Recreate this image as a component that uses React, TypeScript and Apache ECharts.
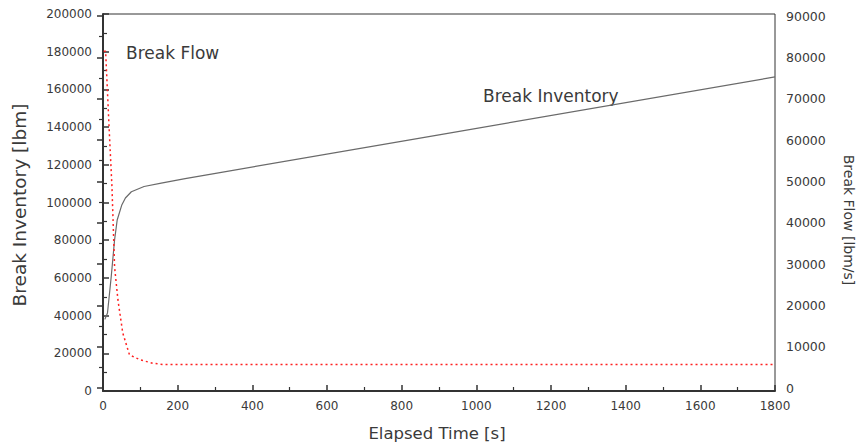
import React, { useEffect, useRef } from "react";
import * as echarts from "echarts";

const inventoryTime = [5, 12, 22, 31, 38, 50, 60, 76, 110, 156, 220, 290, 900, 1800];
const inventoryValue = [38000, 41400, 60600, 80100, 90700, 98500, 102400, 105700, 108500, 110300, 112700, 115100, 135900, 166600];
const flowTime = [2, 7, 17, 24, 31, 40, 53, 71, 100, 133, 160, 1800];
const flowValue = [81500, 81500, 61700, 48600, 29300, 21300, 13300, 8000, 6800, 6000, 5700, 5700];

const FONT = "'DejaVu Sans', Verdana, sans-serif";
const AX = "#333";
const TXT = "#3a3a3a";

export default function App() {
  const ref = useRef<HTMLDivElement>(null);
  useEffect(() => {
    if (!ref.current) return;
    const chart = echarts.init(ref.current, undefined, { renderer: "svg" });
    const inv = inventoryTime.map((t, i) => [t, inventoryValue[i]]);
    const flow = flowTime.map((t, i) => [t, flowValue[i]]);
    const plain = (v: number) => String(v);
    const tick = { show: true, inside: true, length: 6, lineStyle: { color: AX, width: 1.5 } };
    const minor = { show: true, splitNumber: 2, length: 4, lineStyle: { color: AX, width: 1.2 } };
    chart.setOption({
      animation: false,
      backgroundColor: "#fff",
      grid: [
        { left: 103, right: 85, top: 14, height: 377, show: true, borderColor: AX, borderWidth: 1 },
        { left: 103, right: 85, top: 16, height: 372 },
      ],
      xAxis: [
        {
          type: "value", gridIndex: 0, min: 0, max: 1800, interval: 200,
          axisLine: { show: true, onZero: false, lineStyle: { color: AX, width: 2 } },
          axisTick: tick,
          minorTick: minor,
          splitLine: { show: false },
          axisLabel: { color: TXT, fontSize: 12, fontFamily: FONT, margin: 9, formatter: plain },
        },
        { type: "value", gridIndex: 1, min: 0, max: 1800, show: false },
      ],
      yAxis: [
        {
          type: "value", gridIndex: 0, min: 0, max: 200000, interval: 20000,
          axisLine: { show: true, onZero: false, lineStyle: { color: AX, width: 2 } },
          axisTick: tick,
          minorTick: minor,
          splitLine: { show: false },
          axisLabel: { color: TXT, fontSize: 12, fontFamily: FONT, margin: 11, formatter: plain },
        },
        {
          type: "value", gridIndex: 1, position: "right", min: 0, max: 90000, interval: 10000,
          axisLine: { show: false },
          axisTick: tick,
          minorTick: minor,
          splitLine: { show: false },
          axisLabel: { color: TXT, fontSize: 12.5, fontFamily: FONT, margin: 11, formatter: plain },
        },
      ],
      series: [
        {
          type: "line", xAxisIndex: 0, yAxisIndex: 0, data: inv, showSymbol: false,
          lineStyle: { color: "#6a6a6a", width: 1.2 },
        },
        {
          type: "line", xAxisIndex: 1, yAxisIndex: 1, data: flow, showSymbol: false,
          lineStyle: { color: "#ff2020", width: 1.5, type: [2, 3] },
        },
      ],
      graphic: [
        { type: "text", x: 126, y: 53, style: { text: "Break Flow", font: `17px ${FONT}`, fill: TXT, verticalAlign: "middle" } },
        { type: "text", x: 483, y: 96, style: { text: "Break Inventory", font: `17px ${FONT}`, fill: TXT, verticalAlign: "middle" } },
        {
          type: "text", x: 19, y: 205, rotation: Math.PI / 2,
          style: { text: "Break Inventory [lbm]", font: `18.5px ${FONT}`, fill: TXT, align: "center", verticalAlign: "middle" },
        },
        {
          type: "text", x: 849, y: 220, rotation: -Math.PI / 2,
          style: { text: "Break Flow [lbm/s]", font: `14px ${FONT}`, fill: TXT, align: "center", verticalAlign: "middle" },
        },
        {
          type: "text", x: 437, y: 433,
          style: { text: "Elapsed Time [s]", font: `16.5px ${FONT}`, fill: TXT, align: "center", verticalAlign: "middle" },
        },
      ],
    });
    return () => chart.dispose();
  }, []);
  return <div ref={ref} style={{ width: 860, height: 446, position: "fixed", left: 0, top: 0 }} />;
}
